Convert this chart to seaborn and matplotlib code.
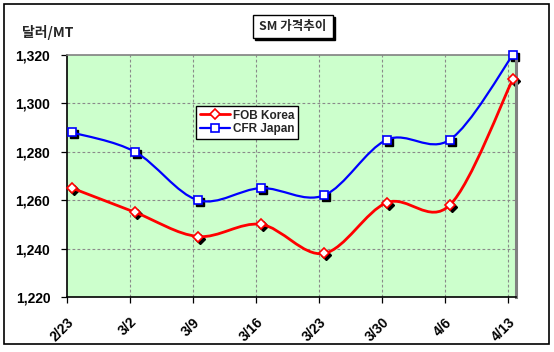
import numpy as np
import pandas as pd
import matplotlib
matplotlib.use("Agg")
import matplotlib.pyplot as plt
import matplotlib.transforms as mtransforms
from matplotlib.path import Path
from matplotlib.patches import PathPatch, Rectangle
from matplotlib.lines import Line2D
import seaborn as sns

dates = ["2/23", "3/2", "3/9", "3/16", "3/23", "3/30", "4/6", "4/13"]
fob_korea = [1265, 1255, 1245, 1250, 1238, 1259, 1258, 1310]
cfr_japan = [1288, 1280, 1260, 1265, 1262, 1285, 1285, 1320]
series_names = ["FOB Korea", "CFR Japan"]
y_ticks = [1220, 1240, 1260, 1280, 1300, 1320]
title_text = "SM 가격추이"
unit_text = "달러/MT"

sns.set_theme(style="white")
plt.rcParams['font.family'] = ['Liberation Sans', 'DejaVu Sans']

df = pd.DataFrame({
    "idx": list(range(len(dates))) * 2,
    "value": fob_korea + cfr_japan,
    "series": [series_names[0]] * len(dates) + [series_names[1]] * len(dates),
})

fig = plt.figure(figsize=(5.54, 3.52), dpi=100)
fig.patch.set_facecolor("white")
ax = fig.add_axes([67 / 554, 1 - 297 / 352, 449 / 554, 242 / 352])
ax.set_facecolor("#CCFFCC")

off = 0.08
ax.set_xlim(-off, 7.05)
ax.set_ylim(1220, 1320)

grid_kw = dict(color="#8A8A8A", lw=0.8, ls=(0, (2.5, 2)), zorder=1)
for t in np.arange(len(dates)) - off:
    if t > -off + 1e-6:
        ax.axvline(t, **grid_kw)
for yv in y_ticks[1:-1]:
    ax.axhline(yv, **grid_kw)

colors = {series_names[0]: "#FF0000", series_names[1]: "#0000FF"}
lws = {series_names[0]: 2.0, series_names[1]: 1.6}
markers = {series_names[0]: "D", series_names[1]: "s"}
msizes = {series_names[0]: 5.0, series_names[1]: 5.2}


def smooth_path(xs, ys):
    pts = np.column_stack([xs, ys]).astype(float)
    n = len(pts)
    verts = [pts[0]]
    codes = [Path.MOVETO]
    for i in range(n - 1):
        p0 = pts[i - 1] if i > 0 else pts[i]
        p1 = pts[i]
        p2 = pts[i + 1]
        p3 = pts[i + 2] if i + 2 < n else pts[i + 1]
        c1 = p1 + (p2 - p0) / 6.0
        c2 = p2 - (p3 - p1) / 6.0
        verts += [c1, c2, p2]
        codes += [Path.CURVE4] * 3
    return Path(verts, codes)


shadow_tr = mtransforms.offset_copy(ax.transData, fig=fig, x=2, y=-2, units="dots")
for name in series_names:
    sub = df[df["series"] == name]
    p = smooth_path(sub["idx"].values, sub["value"].values)
    ax.add_patch(PathPatch(p, facecolor="none", edgecolor=colors[name], lw=lws[name], zorder=3))
    ax.plot(sub["idx"], sub["value"], ls="none", marker=markers[name], ms=msizes[name],
            mfc="black", mec="black", transform=shadow_tr, zorder=2.5, clip_on=False)

n_before = len(ax.lines)
sns.lineplot(data=df, x="idx", y="value", hue="series", style="series",
             markers=markers, dashes=False, palette=colors, ax=ax, legend=False,
             linewidth=0, markersize=6, markerfacecolor="white", zorder=4)
for ln in ax.lines[n_before:]:
    ln.set_clip_on(False)
    ln.set_markeredgewidth(1.2)
    ln.set_markeredgecolor(ln.get_color())
    ln.set_markerfacecolor("white")
    if ln.get_marker() == "D":
        ln.set_markersize(msizes[series_names[0]])
    else:
        ln.set_markersize(msizes[series_names[1]])

ax.set_xlabel("")
ax.set_ylabel("")
ax.set_xticks(np.arange(len(dates)) - off)
ax.set_xticklabels(dates, rotation=45, ha="right", va="top", fontweight="bold",
                   fontsize=10, rotation_mode="anchor")
ax.set_yticks(y_ticks)
ax.set_yticklabels([f"{v:,}" for v in y_ticks], fontweight="bold", fontsize=10)
ax.tick_params(axis="both", direction="out", length=4, width=0.9, colors="black",
               bottom=True, left=True)
ax.tick_params(axis="y", pad=8)
ax.tick_params(axis="x", pad=9)

for s in ["left", "bottom"]:
    ax.spines[s].set_color("black")
    ax.spines[s].set_linewidth(1.2)
ax.spines["top"].set_color("#808080")
ax.spines["top"].set_linewidth(1.2)
ax.spines["right"].set_color("#808080")
ax.spines["right"].set_linewidth(2.2)

handles = [Line2D([0], [0], color=colors[n], lw=lws[n], marker=markers[n],
                  ms=msizes[n], mfc="white", mec=colors[n], mew=1.2) for n in series_names]
leg = ax.legend(handles, series_names, loc="upper left",
                bbox_to_anchor=((196 - 67) / 449, (297 - 106) / 242),
                frameon=True, fancybox=False, edgecolor="black", facecolor="white",
                framealpha=1, borderpad=0.3, handlelength=2.6, handletextpad=0.2,
                labelspacing=0.15, borderaxespad=0,
                prop={"weight": "bold", "size": 8.5})
leg.get_frame().set_linewidth(1.0)
leg.set_zorder(10)

fig.patches.append(Rectangle((255 / 554, 1 - 40 / 352), 80 / 554, 23 / 352,
                             transform=fig.transFigure, facecolor="black", edgecolor="black"))
fig.patches.append(Rectangle((253 / 554, 1 - 38 / 352), 80 / 554, 23 / 352,
                             transform=fig.transFigure, facecolor="white", edgecolor="black", lw=1.0))
fig.text(293 / 554, 1 - 26.5 / 352, title_text, ha="center", va="center",
         fontsize=9, fontweight="bold", family=["Noto Sans CJK KR", "DejaVu Sans"])

fig.text(22 / 554, 1 - 33 / 352, unit_text, ha="left", va="center",
         fontsize=10, fontweight="bold", family=["Noto Sans CJK KR", "DejaVu Sans"])

fig.patches.append(Rectangle((4 / 554, 1 - 344 / 352), 545 / 554, 340 / 352,
                             transform=fig.transFigure, facecolor="none", edgecolor="black", lw=1.2))

fig.savefig("out.png", dpi=100)
